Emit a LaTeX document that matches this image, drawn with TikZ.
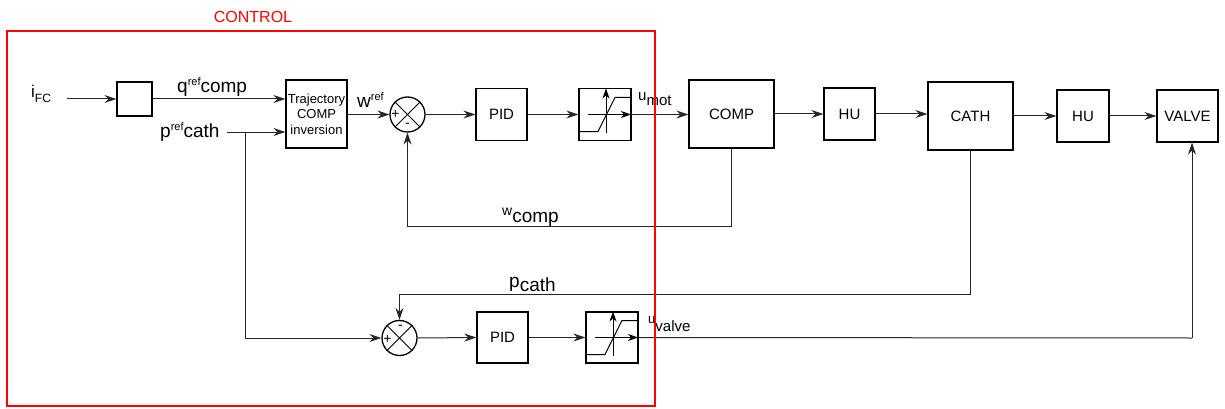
\documentclass[tikz,border=0pt]{standalone}
\usepackage{fontspec}
\setmainfont{Liberation Sans}
\usetikzlibrary{arrows.meta}
\newcommand\fs[1]{\fontsize{#1}{#1}\selectfont}
\begin{document}
\begin{tikzpicture}[x=1pt,y=-1pt,
 blk/.style={draw, line width=1.3pt, inner sep=0pt, font=\fs{15}},
 sumj/.style={draw, circle, line width=1.3pt, minimum size=35pt, inner sep=0pt},
 conn/.style={line width=1pt, draw=black!85, -{Stealth[length=12pt,width=8pt,inset=4pt]}},
 wire/.style={line width=1pt, draw=black!85},
 lbl/.style={inner sep=0pt, anchor=base west},
 satpic/.pic={
   \draw[line width=1pt,-{Stealth[length=10pt,width=7pt,inset=3pt]}] (-17,0) -- (26,0);
   \draw[line width=1pt,-{Stealth[length=10pt,width=7pt,inset=3pt]}] (1,18) -- (1,-26);
   \draw[line width=1pt] (-25,17) -- (-7,17) -- (10,-17) -- (26,-17);
 }]
\useasboundingbox (0,0) rectangle (1225,409);

% blocks
\node[blk, minimum width=35pt, minimum height=34pt] (b0) at (134.5,99) {};
\node[blk, minimum width=61pt, minimum height=68pt, align=center, font=\fontsize{13}{15.5}\selectfont] (traj) at (316.5,114) {Trajectory\\COMP\\inversion};
\node[sumj] (s1) at (407.5,114.5) {};
\node[blk, minimum width=51pt, minimum height=52pt] (pid1) at (501.5,114.5) {PID};
\node[blk, minimum width=52pt, minimum height=52pt] (sat1) at (605,114.5) {};
\node[blk, minimum width=85pt, minimum height=68pt] (comp) at (731.5,114) {COMP};
\node[blk, minimum width=51pt, minimum height=52pt] (hu1) at (849.5,114) {HU};
\node[blk, minimum width=85pt, minimum height=68pt] (cath) at (970.5,116) {CATH};
\node[blk, minimum width=52pt, minimum height=52pt] (hu2) at (1083,116) {HU};
\node[blk, minimum width=61pt, minimum height=52pt] (valve) at (1187.5,116) {VALVE};
\node[sumj] (s2) at (399.5,338) {};
\node[blk, minimum width=51pt, minimum height=51pt] (pid2) at (502.5,337.5) {PID};
\node[blk, minimum width=52pt, minimum height=51pt] (sat2) at (612,337.5) {};

% summing junction details
\foreach \s in {s1,s2}{
  \draw[line width=0.9pt] (\s.north west) -- (\s.south east);
  \draw[line width=0.9pt] (\s.south west) -- (\s.north east);
}
\node[font=\fs{14}, inner sep=0pt] (p1) at (395.5,114.5) {+};
\node[font=\fs{14}, inner sep=0pt] (m1) at (407.5,125) {-};
\node[font=\fs{14}, inner sep=0pt] (p2) at (387.5,339) {+};
\node[font=\fs{14}, inner sep=0pt] (m2) at (400.5,327.5) {-};

% saturation symbols
\pic at (sat1.center) {satpic};
\pic at (sat2.center) {satpic};

% connectors
\coordinate (ifcin) at (67,99);
\coordinate (prefin) at (227,132);
\coordinate (branch) at (245,132);
\coordinate (vin) at (1192,338);
\draw[conn] (ifcin) -- (b0.west);
\draw[conn] (b0.east) -- (b0.east -| traj.west);
\draw[conn] (prefin) -- (prefin -| traj.west);
\draw[conn] (branch) |- (s2.west);
\draw[conn] (traj.east |- s1.west) -- (s1.west);
\draw[conn] (s1.east) -- (pid1.west);
\draw[conn] (pid1.east) -- (sat1.west);
\draw[conn] (sat1.east) -- (sat1.east -| comp.west);
\draw[conn] (comp.east |- hu1.west) -- (hu1.west);
\draw[conn] (hu1.east) -- (hu1.east -| cath.west);
\draw[conn] (cath.east |- hu2.west) -- (hu2.west);
\draw[conn] (hu2.east) -- (valve.west);
\draw[conn] (comp.south) -- ++(0,78) -| (s1.south);
\draw[conn] (cath.south) -- ++(0,144) -| (s2.north);
\draw[conn] (s2.east) -- (pid2.west);
\draw[conn] (pid2.east) -- (sat2.west);
\draw[wire] (sat2.east) -- (vin);
\draw[conn] (vin) -- (vin |- valve.south);

% labels
\node[lbl] (lifc) at (31,98) {\fs{17}i\raisebox{-5pt}{\fs{12}FC}};
\node[lbl] (lq) at (177,93) {\fs{19}q\raisebox{7pt}{\fs{11}ref}comp};
\node[lbl] (lp) at (160,137) {\fs{19}p\raisebox{7pt}{\fs{11}ref}cath};
\node[lbl] (lw) at (357,108) {\fs{19}w\raisebox{7pt}{\fs{11}ref}};
\node[lbl] (lu) at (638,101) {\fs{15}u\raisebox{-5pt}{\fs{15}mot}};
\node[lbl] (lwc) at (502,215) {\fs{14}w\raisebox{-7pt}{\fs{19}comp}};
\node[lbl] (lpc) at (509,287) {\fs{19}p\raisebox{-4pt}{\fs{19}cath}};
\node[lbl] (luv) at (648,323) {\fs{13}u\raisebox{-8pt}{\fs{15}valve}};

% control frame
\draw[red, line width=1.4pt] (7,31) rectangle (655,406);
\node[red, font=\fs{16}, inner sep=0pt] (ctl) at (253,17) {CONTROL};
\end{tikzpicture}
\end{document}
